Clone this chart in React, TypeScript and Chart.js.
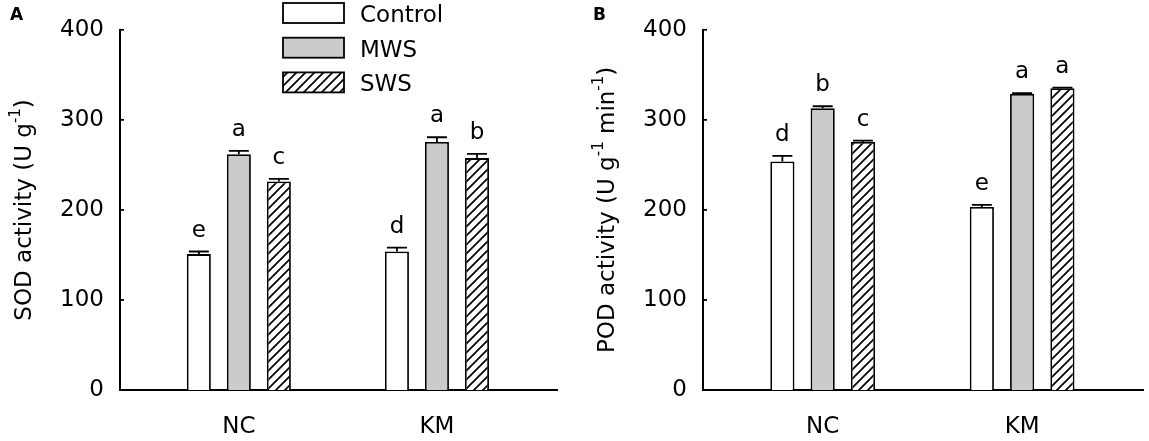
import { useEffect, useRef } from 'react';
import { Chart, registerables } from 'chart.js';

Chart.register(...registerables);
const FAMILY = "'DejaVu Sans', 'Liberation Sans', Arial, sans-serif";
Chart.defaults.font.family = FAMILY;
Chart.defaults.color = '#000';

const categories = ['NC', 'KM'];
const treatments = ['Control', 'MWS', 'SWS'];

// SOD activity (U g-1)
const sodControl = [150.9, 153.8];
const sodMWS = [261.9, 275.5];
const sodSWS = [231.5, 257.5];
const sodErrControl = [2.9, 4.4];
const sodErrMWS = [3.7, 5.2];
const sodErrSWS = [2.9, 4.8];
const sodLettersControl = ['e', 'd'];
const sodLettersMWS = ['a', 'a'];
const sodLettersSWS = ['c', 'b'];

// POD activity (U g-1 min-1)
const podControl = [253.8, 203.3];
const podMWS = [312.9, 328.9];
const podSWS = [275.5, 335.2];
const podErrControl = [6.2, 2.2];
const podErrMWS = [2.2, 0.8];
const podErrSWS = [1.4, 0.5];
const podLettersControl = ['d', 'e'];
const podLettersMWS = ['b', 'a'];
const podLettersSWS = ['c', 'a'];

const sodTitle: [string, boolean][] = [['SOD activity (U g', false], ['-1', true], [')', false]];
const podTitle: [string, boolean][] = [['POD activity (U g', false], ['-1', true], [' min', false], ['-1', true], [')', false]];

const GRAY = '#cbcbcb';

function makeHatch() {
  const s = 9;
  const c = document.createElement('canvas');
  c.width = s;
  c.height = s;
  const ctx = c.getContext('2d')!;
  ctx.fillStyle = '#fff';
  ctx.fillRect(0, 0, s, s);
  ctx.strokeStyle = '#000';
  ctx.lineWidth = 1.7;
  ctx.beginPath();
  ctx.moveTo(-1, s + 1);
  ctx.lineTo(s + 1, -1);
  ctx.moveTo(-1, 1);
  ctx.lineTo(1, -1);
  ctx.moveTo(s - 1, s + 1);
  ctx.lineTo(s + 1, s - 1);
  ctx.stroke();
  return ctx.createPattern(c, 'repeat')!;
}

type PanelProps = {
  tag: string;
  title: [string, boolean][];
  values: number[][];
  errors: number[][];
  letters: string[][];
  legend: boolean;
  width: number;
  axisWidth: number;
  padRight: number;
  titleX: number;
  tagX: number;
};

function Panel(p: PanelProps) {
  const canvasRef = useRef<HTMLCanvasElement>(null);

  useEffect(() => {
    if (!canvasRef.current) return;
    const hatch = makeHatch();
    const fills: (string | CanvasPattern)[] = ['#fff', GRAY, hatch];

    const overlay = {
      id: 'overlay',
      afterDatasetsDraw(chart: Chart) {
        const ctx = chart.ctx;
        const y = chart.scales.y;
        const area = chart.chartArea;
        ctx.save();
        ctx.strokeStyle = '#000';
        ctx.fillStyle = '#000';
        ctx.lineWidth = 1.8;
        // error bars (upper only) and letters
        p.values.forEach((vals, di) => {
          const meta = chart.getDatasetMeta(di);
          meta.data.forEach((bar: any, i: number) => {
            const top = y.getPixelForValue(vals[i] + p.errors[di][i]);
            const base = y.getPixelForValue(vals[i]);
            ctx.beginPath();
            ctx.moveTo(bar.x, base);
            ctx.lineTo(bar.x, top);
            ctx.moveTo(bar.x - 10, top);
            ctx.lineTo(bar.x + 10, top);
            ctx.stroke();
            ctx.font = `23px ${FAMILY}`;
            ctx.textAlign = 'center';
            ctx.textBaseline = 'alphabetic';
            ctx.fillText(p.letters[di][i], bar.x, top - 15);
          });
        });
        // inward y ticks
        y.ticks.forEach((t: any) => {
          const py = y.getPixelForValue(t.value);
          ctx.beginPath();
          ctx.moveTo(area.left, py);
          ctx.lineTo(area.left + 4, py);
          ctx.stroke();
        });
        // y title with superscripts
        const big = `23px ${FAMILY}`;
        const small = `15px ${FAMILY}`;
        let total = 0;
        p.title.forEach(([s, sup]) => {
          ctx.font = sup ? small : big;
          total += ctx.measureText(s).width;
        });
        ctx.translate(p.titleX, (area.top + area.bottom) / 2);
        ctx.rotate(-Math.PI / 2);
        ctx.textAlign = 'left';
        ctx.textBaseline = 'middle';
        let cx = -total / 2;
        p.title.forEach(([s, sup]) => {
          ctx.font = sup ? small : big;
          ctx.fillText(s, cx, sup ? -9 : 0);
          cx += ctx.measureText(s).width;
        });
        ctx.setTransform(1, 0, 0, 1, 0, 0);
        ctx.restore();

        ctx.save();
        ctx.font = `bold 17px ${FAMILY}`;
        ctx.fillStyle = '#000';
        ctx.textBaseline = 'alphabetic';
        ctx.fillText(p.tag, p.tagX, 20);
        if (p.legend) {
          treatments.forEach((name, i) => {
            const by = 3 + i * 34.7;
            ctx.fillStyle = fills[i] as any;
            ctx.fillRect(283, by, 61, 20);
            ctx.strokeStyle = '#000';
            ctx.lineWidth = 1.8;
            ctx.strokeRect(283, by, 61, 20);
            ctx.fillStyle = '#000';
            ctx.font = `23px ${FAMILY}`;
            ctx.fillText(name, 360, by + 19);
          });
        }
        ctx.restore();
      },
    };

    const chart = new Chart(canvasRef.current, {
      type: 'bar',
      data: {
        datasets: p.values.map((vals, di) => ({
          label: treatments[di],
          data: vals.map((v, i) => ({ x: i, y: v })),
          backgroundColor: fills[di] as any,
          borderColor: '#000',
          borderWidth: 1.8,
          categoryPercentage: 0.606,
          barPercentage: 0.6,
        })),
      },
      options: {
        responsive: false,
        animation: false,
        layout: { padding: { top: 26, right: p.padRight, left: 0, bottom: 0 } },
        plugins: { legend: { display: false }, tooltip: { enabled: false } },
        scales: {
          x: {
            type: 'linear',
            min: -0.6,
            max: 1.606,
            bounds: 'data',
            offset: false,
            grid: { display: false, drawTicks: false, offset: false },
            border: { display: true, color: '#000', width: 2 },
            afterBuildTicks: (s: any) => {
              s.ticks = categories.map((_, i) => ({ value: i }));
            },
            afterFit: (s: any) => {
              s.height = 51;
            },
            ticks: {
              autoSkip: false,
              maxRotation: 0,
              padding: 23,
              font: { size: 23 },
              callback: (v: any) => categories[v] ?? '',
            },
          },
          y: {
            min: 0,
            max: 400,
            grid: { display: false, drawTicks: false },
            border: { display: true, color: '#000', width: 2 },
            afterFit: (s: any) => {
              s.width = p.axisWidth;
            },
            ticks: { stepSize: 100, padding: 16, font: { size: 23 } },
          },
        },
      },
      plugins: [overlay],
    });

    return () => {
      chart.destroy();
    };
  }, [p]);

  return <canvas ref={canvasRef} width={p.width} height={441} style={{ display: 'block' }} />;
}

const panelA: PanelProps = {
  tag: 'A',
  title: sodTitle,
  values: [sodControl, sodMWS, sodSWS],
  errors: [sodErrControl, sodErrMWS, sodErrSWS],
  letters: [sodLettersControl, sodLettersMWS, sodLettersSWS],
  legend: true,
  width: 574,
  axisWidth: 120,
  padRight: 17,
  titleX: 25,
  tagX: 10,
};

const panelB: PanelProps = {
  tag: 'B',
  title: podTitle,
  values: [podControl, podMWS, podSWS],
  errors: [podErrControl, podErrMWS, podErrSWS],
  letters: [podLettersControl, podLettersMWS, podLettersSWS],
  legend: false,
  width: 575,
  axisWidth: 129,
  padRight: 6,
  titleX: 34,
  tagX: 19,
};

export default function App() {
  return (
    <div style={{ position: 'absolute', left: 0, top: 0, width: 1149, height: 441, background: '#fff', display: 'flex' }}>
      <Panel {...panelA} />
      <Panel {...panelB} />
    </div>
  );
}
